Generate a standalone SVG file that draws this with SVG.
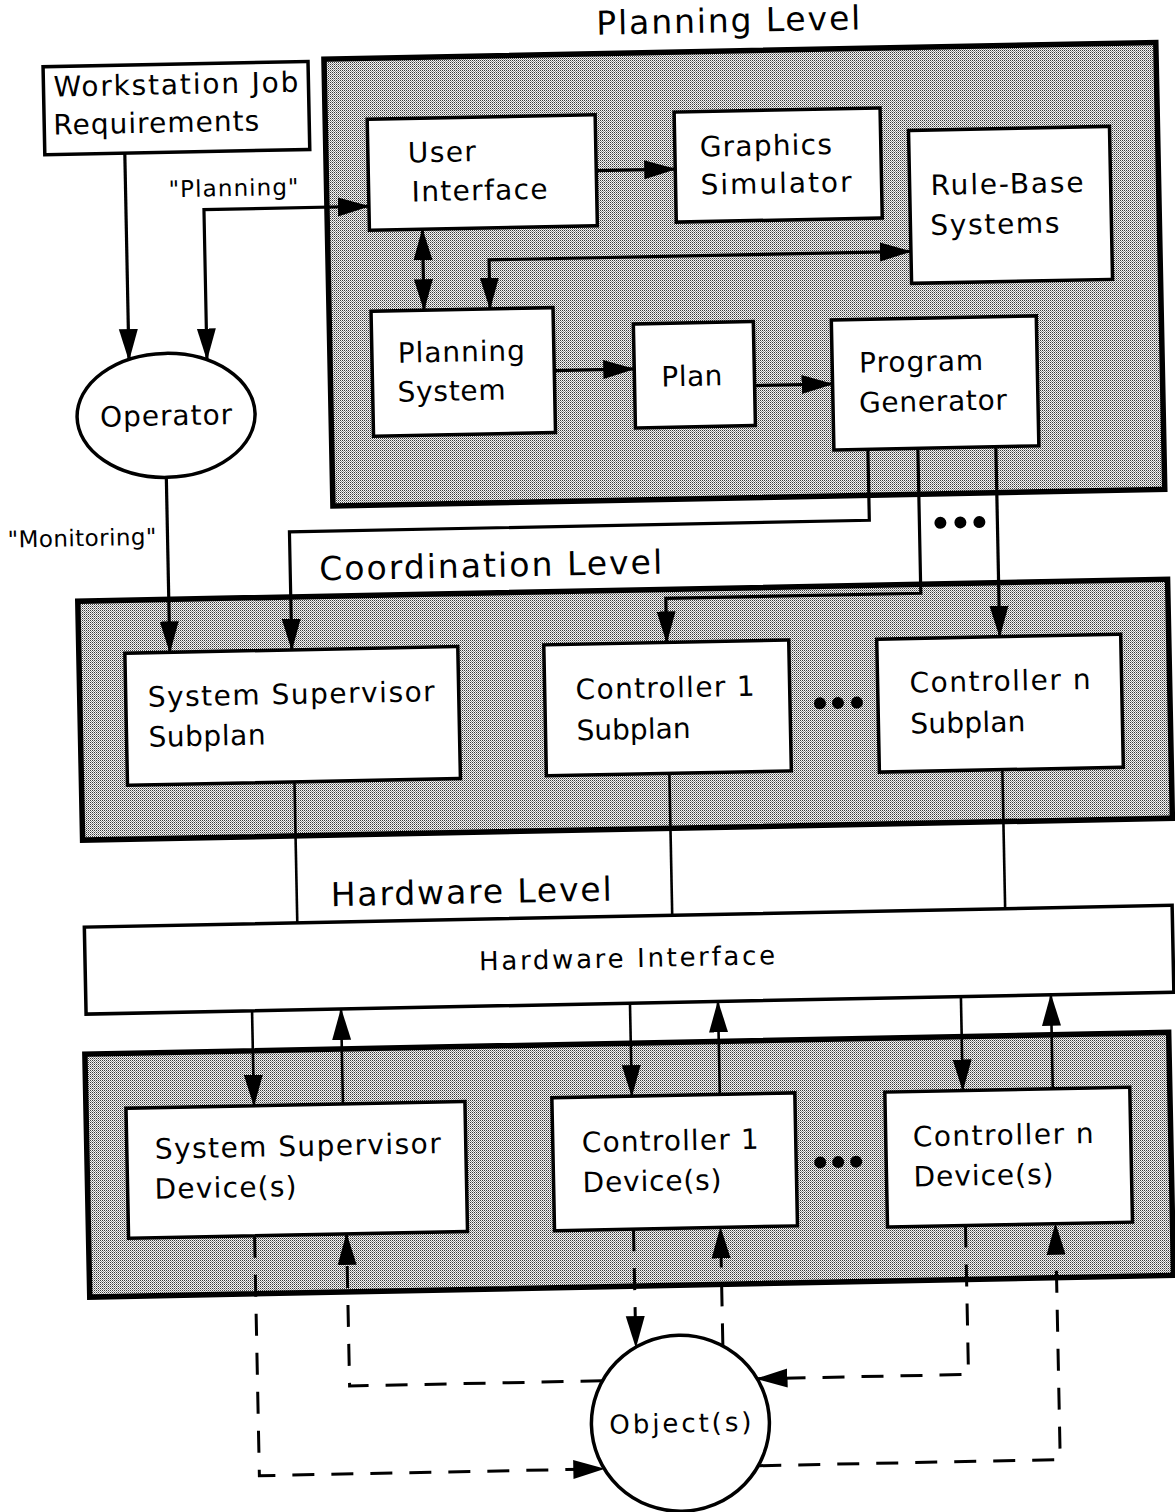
<svg xmlns="http://www.w3.org/2000/svg" width="1175" height="1512" viewBox="0 0 1175 1512">
<defs>
<style>
.t{font-family:"DejaVu Sans","Liberation Sans",sans-serif;font-size:28px;fill:#000}
.ttl{font-size:33px}
.sm{font-size:23px}
.md{font-size:26px}
.box{fill:#fff;stroke:#000;stroke-width:3.5}
.panel{fill:url(#dither);stroke:#000;stroke-width:5.5}
.c{fill:none;stroke:#000;stroke-width:3.2}
.c2{fill:none;stroke:#000;stroke-width:2.6}
.d{fill:none;stroke:#000;stroke-width:3;stroke-dasharray:22 17}
.a{marker-end:url(#ah)}
.aa{marker-start:url(#ah);marker-end:url(#ah)}
.dot{fill:#000}
</style>
<pattern id="dither" width="2" height="2" patternUnits="userSpaceOnUse" patternTransform="rotate(1.15 587 756)">
<rect width="2" height="2" fill="#f6f6f6"/>
<rect width="1" height="1" fill="#3a3a3a"/>
<rect x="1" y="1" width="1" height="1" fill="#909090"/>
</pattern>
<marker id="ah" markerUnits="userSpaceOnUse" markerWidth="32" markerHeight="20" refX="31" refY="10" orient="auto-start-reverse">
<path d="M0,0.5 L32,10 L0,19.5 z" fill="#000"/>
</marker>
</defs>
<rect width="1175" height="1512" fill="#fff"/>
<g transform="rotate(-1.15 587 756)">
<g id="planning-level">
<rect class="panel" x="338" y="54" width="832" height="447"/>
<text class="t ttl" x="611" y="35" textLength="264" lengthAdjust="spacing">Planning Level</text>
</g>
<g id="coordination-level">
<rect class="panel" x="81" y="591" width="1090" height="239"/>
<text class="t ttl" x="323" y="575" textLength="343" lengthAdjust="spacing">Coordination Level</text>
</g>
<g id="hardware-level-title">
<text class="t ttl" x="328" y="901" textLength="281" lengthAdjust="spacing">Hardware Level</text>
</g>
<g id="device-level">
<rect class="panel" x="79" y="1044" width="1084" height="243"/>
</g>
<g id="connectors">
<path class="c a" d="M137,144 V351"/>
<path class="c aa" d="M215,352 V202 H380"/>
<path class="c a" d="M608,171 H687"/>
<path class="c aa" d="M433,226 V307"/>
<path class="c aa" d="M499,307 V258 H921"/>
<path class="c a" d="M562,370 H642"/>
<path class="c a" d="M762,389 H840"/>
<path class="c a" d="M874,455 V526 H294 V644"/>
<path class="c a" d="M924,455 V600 H669 V644"/>
<path class="c a" d="M1002,455 V645"/>
<path class="c a" d="M172,469 V644"/>
<path class="c2" d="M294,776 V917"/>
<path class="c2" d="M669,775 V917"/>
<path class="c2" d="M1002,778 V917"/>
<path class="c2 a" d="M247,1004 V1099"/>
<path class="c2 a" d="M336,1099 V1004"/>
<path class="c2 a" d="M625,1004 V1097"/>
<path class="c2 a" d="M713,1097 V1004"/>
<path class="c2 a" d="M956,1004 V1098"/>
<path class="c2 a" d="M1046,1098 V1004"/>
<path class="d a" d="M245,1229 V1469 H590"/>
<path class="d a" d="M590,1381 H337 V1229"/>
<path class="d a" d="M624,1230 V1348"/>
<path class="d a" d="M711,1348 V1230"/>
<path class="d a" d="M956,1233 V1382 H744"/>
<path class="d a" d="M745,1469 H1046 V1233"/>
<text class="t sm" x="180" y="189" textLength="130" lengthAdjust="spacing">"Planning"</text>
<text class="t sm" x="12" y="536" textLength="149" lengthAdjust="spacing">"Monitoring"</text>
</g>
<g id="workstation-job-requirements">
<rect class="box" x="57" y="56" width="265" height="88"/>
<text class="t" x="67" y="86" textLength="245" lengthAdjust="spacing">Workstation Job</text>
<text class="t" x="66" y="124" textLength="206" lengthAdjust="spacing">Requirements</text>
</g>
<g id="operator">
<ellipse class="box" cx="173" cy="407" rx="89" ry="62"/>
<text class="t" x="107" y="417" textLength="132" lengthAdjust="spacing">Operator</text>
</g>
<g id="user-interface">
<rect class="box" x="380" y="115" width="228" height="111"/>
<text class="t" x="420" y="159" textLength="68" lengthAdjust="spacing">User</text>
<text class="t" x="423" y="198" textLength="136" lengthAdjust="spacing">Interface</text>
</g>
<g id="graphics-simulator">
<rect class="box" x="687" y="114" width="206" height="110"/>
<text class="t" x="712" y="159" textLength="132" lengthAdjust="spacing">Graphics</text>
<text class="t" x="712" y="197" textLength="151" lengthAdjust="spacing">Simulator</text>
</g>
<g id="rule-base-systems">
<rect class="box" x="921" y="137" width="201" height="153"/>
<text class="t" x="942" y="202" textLength="153" lengthAdjust="spacing">Rule-Base</text>
<text class="t" x="941" y="242" textLength="129" lengthAdjust="spacing">Systems</text>
</g>
<g id="planning-system">
<rect class="box" x="380" y="307" width="182" height="125"/>
<text class="t" x="406" y="359" textLength="127" lengthAdjust="spacing">Planning</text>
<text class="t" x="405" y="398" textLength="108" lengthAdjust="spacing">System</text>
</g>
<g id="plan">
<rect class="box" x="642" y="325" width="120" height="104"/>
<text class="t" x="669" y="388" textLength="61" lengthAdjust="spacing">Plan</text>
</g>
<g id="program-generator">
<rect class="box" x="840" y="325" width="205" height="130"/>
<text class="t" x="867" y="378" textLength="124" lengthAdjust="spacing">Program</text>
<text class="t" x="866" y="418" textLength="148" lengthAdjust="spacing">Generator</text>
</g>
<g id="system-supervisor-subplan">
<rect class="box" x="127" y="644" width="333" height="132"/>
<text class="t" x="149" y="698" textLength="287" lengthAdjust="spacing">System Supervisor</text>
<text class="t" x="149" y="738" textLength="117" lengthAdjust="spacing">Subplan</text>
</g>
<g id="controller-1-subplan">
<rect class="box" x="546" y="644" width="245" height="131"/>
<text class="t" x="577" y="699" textLength="179" lengthAdjust="spacing">Controller 1</text>
<text class="t" x="577" y="740" textLength="114" lengthAdjust="spacing">Subplan</text>
</g>
<g id="controller-n-subplan">
<rect class="box" x="879" y="645" width="244" height="133"/>
<text class="t" x="911" y="699" textLength="181" lengthAdjust="spacing">Controller n</text>
<text class="t" x="911" y="740" textLength="115" lengthAdjust="spacing">Subplan</text>
</g>
<g id="hardware-interface">
<rect class="box" x="81" y="917" width="1088" height="87"/>
<text class="t md" x="475" y="968" textLength="296" lengthAdjust="spacing">Hardware Interface</text>
</g>
<g id="system-supervisor-devices">
<rect class="box" x="119" y="1099" width="339" height="130"/>
<text class="t" x="147" y="1150" textLength="286" lengthAdjust="spacing">System Supervisor</text>
<text class="t" x="146" y="1190" textLength="142" lengthAdjust="spacing">Device(s)</text>
</g>
<g id="controller-1-devices">
<rect class="box" x="545" y="1097" width="243" height="133"/>
<text class="t" x="574" y="1152" textLength="177" lengthAdjust="spacing">Controller 1</text>
<text class="t" x="574" y="1192" textLength="139" lengthAdjust="spacing">Device(s)</text>
</g>
<g id="controller-n-devices">
<rect class="box" x="878" y="1098" width="245" height="135"/>
<text class="t" x="905" y="1153" textLength="181" lengthAdjust="spacing">Controller n</text>
<text class="t" x="905" y="1193" textLength="140" lengthAdjust="spacing">Device(s)</text>
</g>
<g id="objects">
<ellipse class="box" cx="667" cy="1425" rx="89" ry="88"/>
<text class="t md" x="596" y="1434" textLength="142" lengthAdjust="spacing">Object(s)</text>
</g>
<g id="ellipsis-dots">
<circle class="dot" cx="945" cy="530" r="6"/><circle class="dot" cx="965" cy="530" r="6"/><circle class="dot" cx="984" cy="530" r="6"/>
<circle class="dot" cx="821" cy="708" r="6"/><circle class="dot" cx="839" cy="708" r="6"/><circle class="dot" cx="858" cy="708" r="6"/>
<circle class="dot" cx="812" cy="1167" r="6"/><circle class="dot" cx="830" cy="1167" r="6"/><circle class="dot" cx="848" cy="1167" r="6"/>
</g>
</g>
</svg>
